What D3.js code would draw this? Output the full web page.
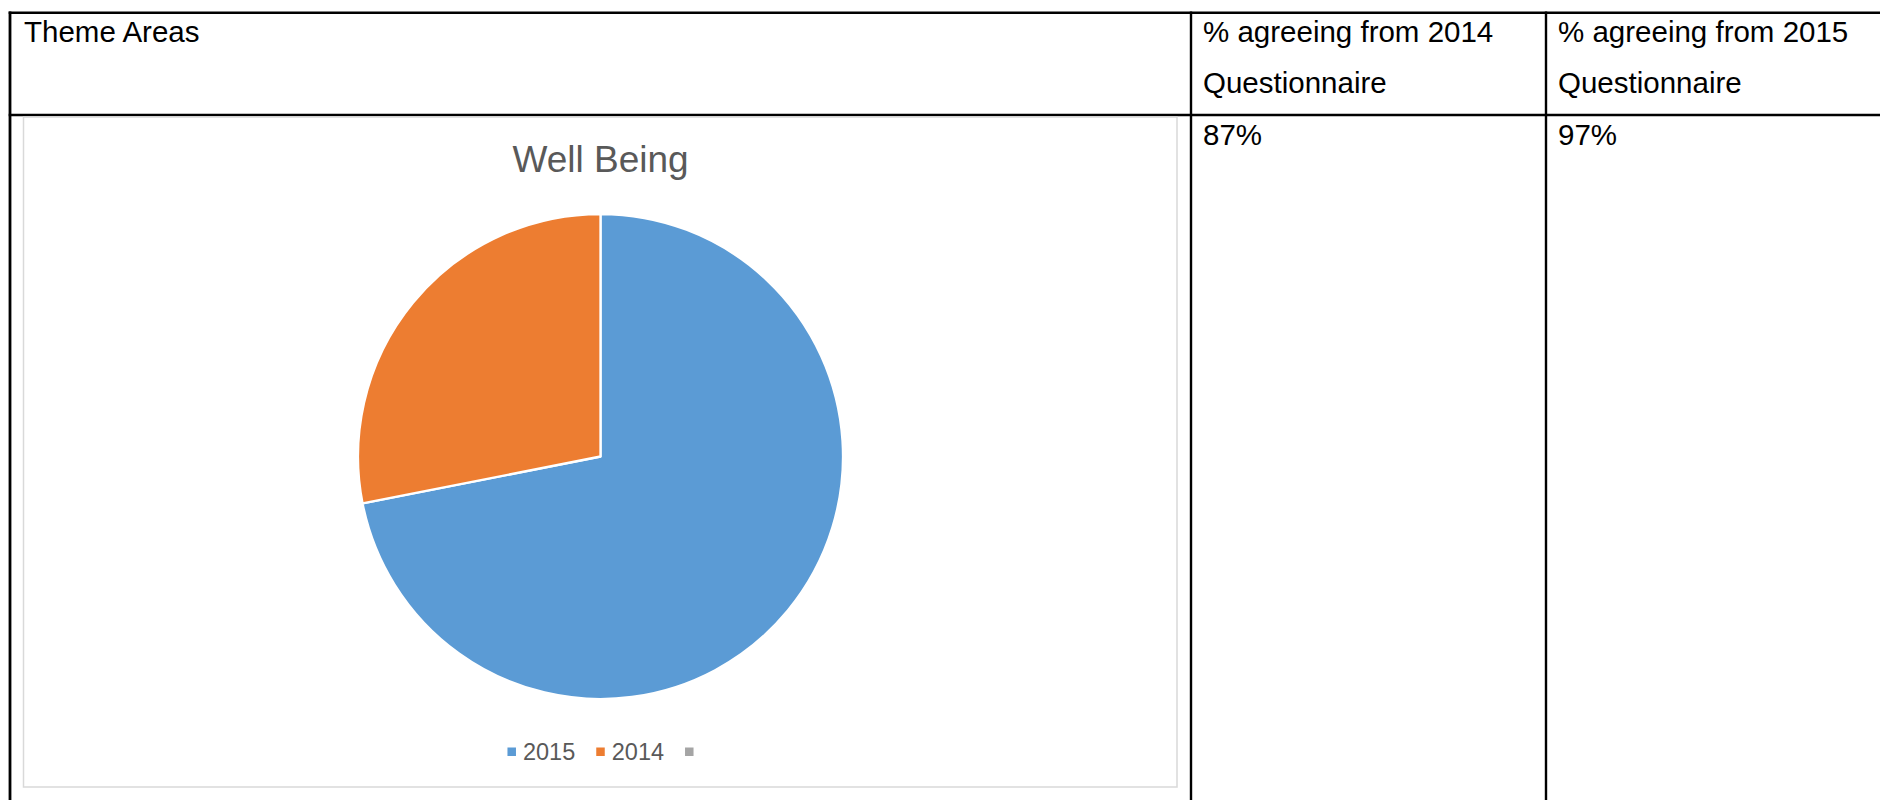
<!DOCTYPE html>
<html>
<head>
<meta charset="utf-8">
<script src="https://cdn.jsdelivr.net/npm/d3@7"></script>
<style>
  html, body { margin: 0; padding: 0; background: #ffffff; }
  svg { display: block; font-family: "Liberation Sans", Arial, sans-serif; }
</style>
</head>
<body>
<svg id="chart" width="1880" height="800"></svg>
<script>
// ---- data ----
const chartTitle = "Well Being";
const categories = ["2015", "2014", ""];
const values = [71.9, 28.1, 0];
const colors = ["#5b9bd5", "#ed7d31", "#a5a5a5"];

const headerCells = [
  ["Theme Areas"],
  ["% agreeing from 2014", "Questionnaire"],
  ["% agreeing from 2015", "Questionnaire"]
];
const rowCells = ["", "87%", "97%"];

// ---- layout ----
const svg = d3.select("#chart");
const W = 1880, H = 800;
const tableTop = 12.8, headerBottom = 115, tableLeft = 10;
const colX = [tableLeft, 1191, 1546];

// table lines
const lines = svg.append("g").attr("stroke", "#000").attr("stroke-width", 2.4);
lines.append("line").attr("x1", tableLeft - 1.3).attr("x2", W).attr("y1", tableTop).attr("y2", tableTop);
lines.append("line").attr("x1", tableLeft - 1.3).attr("x2", W).attr("y1", headerBottom).attr("y2", headerBottom);
colX.forEach((x, i) => {
  lines.append("line").attr("x1", x).attr("x2", x).attr("y1", tableTop - 1.2).attr("y2", H)
    .attr("stroke-width", i === 0 ? 2.8 : 2.4);
});

// header text
const hdr = svg.append("g").attr("font-size", 29.5).attr("fill", "#000");
headerCells.forEach((cell, i) => {
  cell.forEach((ln, j) => {
    hdr.append("text").attr("x", colX[i] + (i === 0 ? 14 : 12)).attr("y", 41.5 + j * 51.5).text(ln);
  });
});
rowCells.forEach((t, i) => {
  if (!t) return;
  hdr.append("text").attr("x", colX[i] + 12).attr("y", 145).text(t);
});

// chart box
const box = { x: 23.5, y: 117, w: 1177 - 23.5, h: 787 - 117 };
svg.append("rect").attr("x", box.x).attr("y", box.y).attr("width", box.w).attr("height", box.h)
  .attr("fill", "#fff").attr("stroke", "#d9d9d9").attr("stroke-width", 1.5);

const cx = 600.5, cy = 456.5, r = 242.5;

svg.append("text").attr("x", cx).attr("y", 171.5).attr("text-anchor", "middle")
  .attr("font-size", 37).attr("fill", "#595959").text(chartTitle);

// pie
const pie = d3.pie().sort(null).value(d => d.v);
const arc = d3.arc().innerRadius(0).outerRadius(r);
const pieData = pie(categories.map((c, i) => ({ c, v: values[i], color: colors[i] })));
svg.append("g").attr("transform", `translate(${cx},${cy})`)
  .selectAll("path").data(pieData.filter(d => d.data.v > 0)).join("path")
  .attr("d", arc).attr("fill", d => d.data.color)
  .attr("stroke", "#fff").attr("stroke-width", 2.3).attr("stroke-linejoin", "round");

// legend
const lg = svg.append("g");
const sq = 8.5, gapText = 7, gapEntry = 21, legendY = 760;
let x = 0;
categories.forEach((c, i) => {
  const g = lg.append("g");
  g.append("rect").attr("x", x).attr("y", legendY - 12.5).attr("width", sq).attr("height", sq).attr("fill", colors[i]);
  const t = g.append("text").attr("x", x + sq + gapText).attr("y", legendY)
    .attr("font-size", 23.5).attr("fill", "#595959").text(c);
  const tw = c ? t.node().getComputedTextLength() : 0;
  x += sq + (c ? gapText + tw : 0) + gapEntry;
});
const totalW = x - gapEntry;
lg.attr("transform", `translate(${cx - totalW / 2},0)`);
</script>
</body>
</html>
